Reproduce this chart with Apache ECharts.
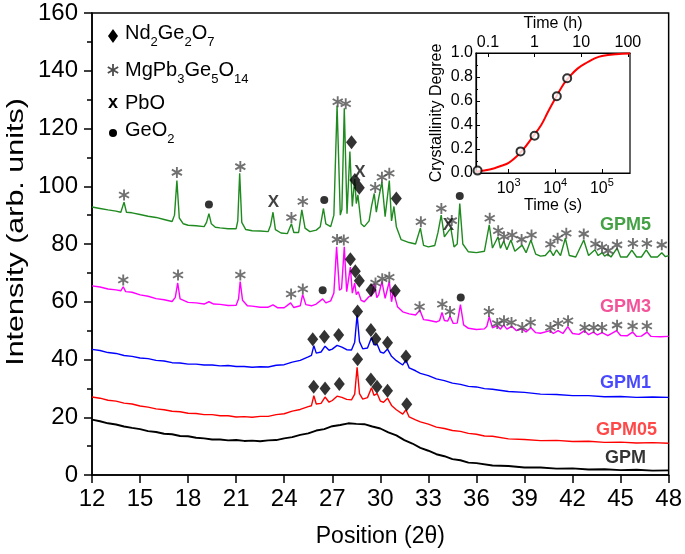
<!DOCTYPE html>
<html><head><meta charset="utf-8">
<script src="https://cdn.jsdelivr.net/npm/echarts@6/dist/echarts.min.js"></script>
<style>html,body{margin:0;padding:0;background:#fff}#c{width:685px;height:554px}</style>
</head><body><div id="c"></div>
<script>
const FONT = '"Liberation Sans", Arial, sans-serif';

// ---- main XRD patterns: [2theta, intensity] ----
const gpm = [[12,19.2],[12.5,18.6],[13,17.9],[13.5,17.5],[14,16.8],[14.5,16.3],[15,15.9],[15.5,15.2],[16,14.9],[16.5,14.3],[17,14.1],[17.5,13.5],[18,13.4],[18.5,12.9],[19,12.7],[19.5,12.3],[20,12.3],[20.5,12.0],[21,12.1],[21.5,11.8],[22,11.9],[22.5,11.7],[23,12.0],[23.5,12.1],[24,12.7],[24.5,13.1],[25,13.9],[25.5,14.4],[26,15.4],[26.5,15.9],[27,16.9],[27.5,17.3],[28,17.9],[28.5,17.7],[29,17.6],[29.5,16.8],[30,16.1],[30.5,14.8],[31,13.7],[31.5,12.1],[32,10.9],[32.5,9.4],[33,8.4],[33.5,7.2],[34,6.5],[34.5,5.5],[35,5.1],[35.5,4.3],[36,4.1],[37,3.3],[38,3.1],[39,2.6],[40,2.6],[41,2.2],[42,2.3],[43,1.9],[44,2.0],[45,1.7],[46,1.8],[47,1.5],[48,1.6]];

const gpm05 = [[12,27.0],[12.5,26.6],[13,25.9],[13.5,25.6],[14,24.9],[14.5,24.6],[15,23.9],[15.5,23.5],[16,22.9],[16.5,22.6],[17,22.1],[17.5,21.9],[18,21.4],[18.5,21.3],[19,20.9],[19.5,20.9],[20,20.5],[20.5,20.5],[21,20.1],[21.5,20.2],[22,20.0],[22.5,20.3],[23,20.3],[23.5,20.9],[24,21.2],[24.5,22.1],[25,22.7],[25.5,23.7],[25.7,24.0],[25.85,27.5],[26.0,24.6],[26.3,24.8],[26.55,27.0],[26.8,25.2],[27.0,25.8],[27.3,27.3],[27.6,26.9],[27.9,26.2],[28.2,26.0],[28.4,28.0],[28.55,37.3],[28.7,28.2],[28.9,26.3],[29.2,26.8],[29.45,30.2],[29.6,27.6],[29.8,28.2],[30.0,25.6],[30.2,25.2],[30.45,26.6],[30.7,24.1],[31.0,22.6],[31.4,21.1],[31.6,22.6],[31.8,20.1],[32.2,19.1],[32.5,18.4],[33,17.6],[33.5,16.6],[34,16.1],[34.5,15.4],[35,15.1],[35.5,14.4],[36,14.1],[36.5,13.5],[37,13.4],[38,12.5],[39,12.3],[40,11.9],[41,12.0],[42,11.6],[43,11.7],[44,11.3],[45,11.4],[46,11.1],[47,11.2],[48,11.0]];

const gpm1 = [[12,43.5],[12.5,43.1],[13,42.4],[13.5,42.1],[14,41.4],[14.5,41.1],[15,40.5],[15.5,40.3],[16,39.7],[16.5,39.5],[17,38.9],[17.5,38.8],[18,38.4],[18.5,38.4],[19,38.1],[19.5,38.1],[20,37.8],[20.5,37.9],[21,37.6],[21.5,37.6],[22,37.3],[22.5,37.5],[23,37.4],[23.5,38.0],[24,38.2],[24.5,39.1],[25,39.7],[25.5,40.9],[25.7,41.4],[25.85,44.8],[26.0,42.2],[26.3,42.6],[26.55,44.6],[26.8,43.2],[27.0,43.6],[27.3,44.9],[27.6,44.3],[27.9,43.4],[28.2,43.3],[28.4,46.0],[28.55,55.5],[28.7,46.2],[28.9,43.7],[29.2,44.0],[29.45,47.6],[29.6,45.1],[29.8,45.3],[30.0,42.6],[30.2,42.2],[30.45,43.6],[30.7,41.1],[31.0,39.6],[31.4,38.1],[31.6,39.8],[31.8,37.1],[32.2,36.1],[32.5,35.2],[33,34.4],[33.5,33.3],[34,32.7],[34.5,31.8],[35,31.4],[35.5,30.7],[36,30.5],[36.5,29.9],[37,29.7],[38,28.9],[39,28.6],[40,28.0],[41,27.9],[42,27.5],[43,27.5],[44,27.1],[45,27.2],[46,26.9],[47,27.0],[48,26.9]];

const gpm3 = [[12,65.5],[12.5,65.1],[13,64.4],[13.5,64.1],[13.8,63.8],[13.95,65.2],[14.1,63.5],[14.5,63.3],[15,62.4],[15.5,61.9],[16,61.1],[16.5,60.7],[17,60.1],[17.2,61.5],[17.35,66.5],[17.5,61.0],[18,59.8],[18.5,59.6],[19,59.2],[19.3,60.0],[19.6,59.2],[20,59.1],[20.5,58.7],[21,58.8],[21.15,61.0],[21.25,67.0],[21.4,60.5],[21.7,58.6],[22,58.5],[22.5,58.1],[23,58.1],[23.3,58.9],[23.6,57.9],[24,57.9],[24.4,59.6],[24.6,58.0],[25.0,58.6],[25.15,62.5],[25.35,59.0],[25.7,58.6],[26,59.2],[26.4,61.0],[26.6,59.6],[26.9,60.3],[27.1,63.0],[27.27,79.0],[27.45,64.0],[27.58,64.5],[27.75,79.0],[27.9,63.5],[28.0,63.8],[28.13,72.0],[28.25,63.0],[28.4,66.5],[28.5,62.5],[28.62,63.5],[28.8,60.5],[29.0,60.0],[29.3,61.8],[29.45,62.2],[29.63,66.4],[29.78,61.4],[29.9,62.5],[30.1,67.0],[30.3,61.2],[30.56,67.0],[30.7,60.0],[30.82,63.5],[31.07,58.3],[31.4,56.5],[31.8,55.8],[32.2,55.4],[32.47,57.1],[32.7,53.8],[33.0,53.6],[33.5,53.0],[33.7,53.5],[33.85,56.3],[34.0,53.5],[34.2,53.3],[34.35,55.0],[34.55,52.5],[34.8,52.6],[35.0,59.0],[35.2,52.0],[35.5,50.8],[36.0,50.4],[36.5,50.6],[36.65,51.5],[36.8,54.8],[37.0,51.0],[37.3,51.7],[37.5,50.5],[37.7,52.0],[37.9,50.5],[38.2,51.5],[38.5,50.0],[38.85,50.6],[39.1,49.5],[39.4,51.0],[39.7,49.3],[40.0,49.1],[40.6,50.0],[40.8,49.0],[41.1,50.0],[41.4,49.0],[41.7,51.4],[42.0,49.0],[42.4,48.7],[42.75,50.0],[43.0,48.6],[43.3,49.5],[43.55,48.5],[43.85,49.3],[44.2,48.3],[44.75,50.0],[45.0,48.3],[45.4,48.2],[45.75,49.5],[46.0,48.0],[46.3,48.1],[46.65,49.5],[46.9,48.0],[47.5,47.9],[48,48.0]];

const gpm5 = [[12,92.8],[12.5,92.3],[13,91.8],[13.5,91.4],[13.8,91.0],[14.0,94.5],[14.15,91.0],[14.5,90.8],[15,90.2],[15.5,89.6],[16,89.2],[16.5,88.5],[17.0,87.8],[17.15,90.0],[17.3,102.0],[17.45,89.0],[17.7,87.0],[18.0,86.5],[18.5,86.3],[19.0,86.0],[19.15,87.5],[19.3,90.5],[19.45,87.0],[19.7,85.8],[20.0,85.6],[20.5,85.3],[21.0,85.3],[21.1,88.0],[21.22,104.5],[21.35,87.5],[21.6,85.0],[22.0,84.6],[22.5,84.5],[23.0,84.3],[23.15,86.5],[23.3,91.0],[23.45,85.0],[23.8,83.8],[24.2,83.6],[24.45,87.0],[24.6,84.0],[24.9,84.0],[25.1,91.8],[25.3,85.5],[25.6,84.3],[26.0,84.8],[26.25,86.0],[26.45,92.3],[26.6,87.0],[26.9,86.0],[27.1,90.0],[27.3,128.0],[27.5,90.0],[27.6,92.0],[27.75,127.0],[27.92,90.5],[28.1,112.0],[28.25,93.0],[28.4,102.5],[28.5,94.0],[28.6,97.0],[28.8,87.0],[29.0,86.0],[29.3,88.0],[29.45,93.0],[29.62,97.5],[29.75,91.0],[29.9,96.0],[30.1,101.5],[30.3,89.5],[30.56,102.0],[30.7,88.0],[30.85,93.0],[31.0,86.0],[31.3,81.5],[31.8,80.5],[32.2,80.0],[32.5,85.5],[32.7,79.5],[33.0,79.0],[33.4,79.5],[33.6,84.0],[33.8,90.0],[34.0,82.5],[34.2,84.0],[34.4,85.5],[34.6,79.0],[34.8,80.0],[34.96,94.0],[35.15,80.0],[35.5,77.3],[36.0,77.0],[36.5,77.5],[36.8,86.6],[37.0,78.6],[37.35,82.5],[37.5,78.5],[37.7,81.0],[37.9,78.0],[38.15,81.4],[38.4,77.5],[38.85,79.6],[39.1,77.0],[39.4,81.4],[39.7,76.5],[40.0,75.8],[40.3,76.0],[40.6,77.9],[40.8,76.0],[41.0,78.0],[41.25,76.0],[41.55,82.0],[41.8,76.0],[42.2,75.5],[42.7,81.4],[43.0,76.0],[43.4,78.0],[43.6,76.0],[43.85,77.0],[44.0,75.8],[44.2,76.5],[44.4,75.5],[44.78,78.6],[45.0,75.5],[45.4,75.5],[45.7,77.9],[46.0,75.5],[46.3,75.5],[46.6,78.0],[46.9,75.5],[47.3,75.5],[47.57,77.0],[47.8,75.6],[48,76.0]];

// ---- phase marks [2theta, height] ----
const starMarks = [[14.0,97],[17.3,104.8],[21.26,106.8],[24.45,89.2],[25.16,94.7],[27.34,129.3],[27.84,128.6],[29.68,99.6],[30.1,103.1],[30.56,104.5],[32.53,87.7],[33.81,92.3],[34.46,88.1],[36.83,88.9],[37.36,84.6],[37.72,82.5],[38.23,83.1],[38.82,81.6],[39.44,83.1],[40.62,79.9],[41.07,82.0],[41.61,83.7],[42.7,83.5],[43.43,80.0],[43.84,78.9],[44.22,77.7],[44.78,79.7],[45.77,80.2],[46.64,80.2],[47.57,79.7],
  [13.95,67.5],[17.37,69.3],[21.26,69.3],[24.43,62.7],[25.16,64.4],[27.3,81.6],[27.72,81.4],[29.7,66.5],[30.12,68.0],[30.56,68.5],[32.45,58.3],[33.87,59.1],[34.35,56.6],[36.78,56.6],[37.3,52.5],[37.72,53.4],[38.19,52.8],[38.86,51.1],[39.38,52.8],[40.62,51.1],[41.1,52.5],[41.72,53.4],[42.76,51.1],[43.32,51.1],[43.84,51.1],[44.78,51.9],[45.75,51.6],[46.64,51.6]];
const diamondMarks = [[28.2,115.2],[28.41,102.2],[28.69,99.5],[31.0,95.8],
  [28.13,74.7],[28.44,70.6],[28.69,67.3],[29.42,64.1],[30.93,63.8],
  [25.78,47.0],[26.51,47.9],[27.4,48.5],[28.58,56.6],[29.41,50.2],[29.72,47.1],[30.45,45.8],[31.6,41.0],
  [25.84,30.6],[26.55,30.0],[27.44,31.5],[28.58,40.1],[29.41,33.1],[29.79,30.6],[30.45,29.2],[31.65,24.5]];
const dotMarks = [[19.3,93.7],[26.5,95.2],[34.96,96.6],[26.4,64.0],[35.02,61.5]];
const crossMarks = [[23.33,94.4],[28.73,104.8],[34.25,86.6]];

// ---- curve labels ----
const curveNames = ['GPM5','GPM3','GPM1','GPM05','GPM'];
const curveLabelPos = [[45.31,86.6],[45.31,58.2],[45.31,31.9],[45.37,15.6],[45.31,5.9]];
const curveColors = ['#1f8a1f','#ff00ff','#0000ff','#ff0000','#000000'];
const labelColors = ['#178a17','#f0287f','#1a1aff','#ff1a1a','#000000'];

// ---- inset: crystallinity vs time ----
const timePts = [216, 1800, 3600, 10800, 18000];
const cryPts = [0.02, 0.18, 0.31, 0.64, 0.79];
const fitT = [200, 300, 500, 700, 1000, 1500, 2000, 3000, 5000, 7000, 10000, 15000, 20000, 30000, 50000, 70000, 100000, 200000, 400000];
const fitY = [0.01, 0.02, 0.04, 0.06, 0.085, 0.14, 0.19, 0.28, 0.40, 0.51, 0.62, 0.74, 0.80, 0.87, 0.925, 0.955, 0.975, 0.99, 0.995];

const STAR = 'path://M-8 -50L8 -50L8 50L-8 50Z M39 -32L47 -18L-39 32L-47 18Z M47 18L39 32L-47 -18L-39 -32Z';

const chart = echarts.init(document.getElementById('c'), null, {renderer: 'canvas'});
const patterns = [gpm5, gpm3, gpm1, gpm05, gpm];

const series = patterns.map((d, i) => ({
  type: 'line', xAxisIndex: 0, yAxisIndex: 0, data: d, showSymbol: false, symbol: 'none',
  lineStyle: {color: curveColors[i], width: i === 4 ? 1.9 : 1.4}, z: 2
}));
series.push({type: 'scatter', xAxisIndex: 0, yAxisIndex: 0, data: starMarks, symbol: STAR, symbolSize: 11,
  itemStyle: {color: '#4d4d4d'}, z: 5});
series.push({type: 'scatter', xAxisIndex: 0, yAxisIndex: 0, data: diamondMarks, symbol: 'diamond', symbolSize: [11, 14],
  itemStyle: {color: '#000'}, z: 5});
series.push({type: 'scatter', xAxisIndex: 0, yAxisIndex: 0, data: dotMarks, symbol: 'circle', symbolSize: 8,
  itemStyle: {color: '#000'}, z: 5});
series.push({type: 'scatter', xAxisIndex: 0, yAxisIndex: 0, data: crossMarks, symbol: 'circle', symbolSize: 1,
  itemStyle: {color: 'rgba(0,0,0,0)'}, z: 5,
  label: {show: true, position: 'inside', formatter: 'X', fontFamily: FONT, fontSize: 17, fontWeight: 'bold', color: '#111'}});
series.push({type: 'scatter', xAxisIndex: 0, yAxisIndex: 0, symbol: 'circle', symbolSize: 1, z: 6,
  itemStyle: {color: 'rgba(0,0,0,0)'},
  data: curveNames.map((n, i) => ({name: n, value: curveLabelPos[i],
    label: {color: labelColors[i]}})),
  label: {show: true, position: 'inside', formatter: p => p.name, fontFamily: FONT, fontSize: 18, fontWeight: 'bold'}});
// inset
series.push({type: 'line', xAxisIndex: 1, yAxisIndex: 1, data: fitT.map((t, i) => [t, fitY[i]]),
  smooth: 0.4, showSymbol: false, symbol: 'none', lineStyle: {color: '#ff0000', width: 2}, z: 3});
series.push({type: 'scatter', xAxisIndex: 1, yAxisIndex: 1, data: timePts.map((t, i) => [t, cryPts[i]]),
  symbol: 'emptyCircle', symbolSize: 8, itemStyle: {color: '#000', borderColor: '#000', borderWidth: 1.5}, z: 4});

const axisCommon = {
  axisLine: {show: true, lineStyle: {color: '#000', width: 1.5}},
  splitLine: {show: false},
};
const subRich = {m: {fontFamily: FONT, fontSize: 20, color: '#000', padding: [0, 0, 5, 0], verticalAlign: 'bottom'},
                 s: {fontFamily: FONT, fontSize: 13, color: '#000', verticalAlign: 'bottom'}};

const option = {
  animation: false,
  backgroundColor: '#fff',
  grid: [
    {left: 92, top: 13, width: 577, height: 462, show: true, borderColor: '#000', borderWidth: 1.5, backgroundColor: 'transparent'},
    {left: 476, top: 53, width: 154, height: 120, show: true, borderColor: '#000', borderWidth: 1.2}
  ],
  xAxis: [
    Object.assign({}, axisCommon, {gridIndex: 0, type: 'value', min: 12, max: 48, interval: 3,
      axisTick: {show: true, inside: false, length: 8, lineStyle: {color: '#000', width: 1.5}},
      axisLabel: {fontFamily: FONT, fontSize: 24, color: '#000', margin: 12},
      name: 'Position (2θ)', nameLocation: 'middle', nameGap: 50,
      nameTextStyle: {fontFamily: FONT, fontSize: 23, color: '#000'}}),
    {gridIndex: 1, type: 'log', logBase: 10, min: 200, max: 400000, position: 'bottom',
      axisLine: {show: true, lineStyle: {color: '#000', width: 1.2}}, splitLine: {show: false},
      axisTick: {show: true, inside: true, length: 4, lineStyle: {color: '#000'}},
      axisLabel: {fontFamily: FONT, fontSize: 16, color: '#000', margin: 4, showMinLabel: false, showMaxLabel: false,
        formatter: v => '{b|10}{sup|' + Math.round(Math.log10(v)) + '}',
        rich: {b: {fontFamily: FONT, fontSize: 16, color: '#000', padding: [4, 0, 0, 0], verticalAlign: 'bottom'},
               sup: {fontFamily: FONT, fontSize: 11, color: '#000', verticalAlign: 'top'}}},
      name: 'Time (s)', nameLocation: 'middle', nameGap: 20,
      nameTextStyle: {fontFamily: FONT, fontSize: 16, color: '#000'}},
    {gridIndex: 1, type: 'log', logBase: 10, min: 200 / 3600, max: 400000 / 3600, position: 'top',
      axisLine: {show: true, lineStyle: {color: '#000', width: 1.2}}, splitLine: {show: false},
      axisTick: {show: true, inside: true, length: 4, lineStyle: {color: '#000'}},
      axisLabel: {fontFamily: FONT, fontSize: 16, color: '#000', margin: 2, showMinLabel: false, showMaxLabel: false,
        formatter: v => v < 0.5 ? (Math.round(v * 10) / 10).toFixed(1) : String(Math.round(v))},
      name: 'Time (h)', nameLocation: 'middle', nameGap: 21,
      nameTextStyle: {fontFamily: FONT, fontSize: 16, color: '#000'}}
  ],
  yAxis: [
    Object.assign({}, axisCommon, {gridIndex: 0, type: 'value', min: 0, max: 160, interval: 20,
      axisTick: {show: true, inside: false, length: 8, lineStyle: {color: '#000', width: 1.5}},
      minorTick: {show: true, splitNumber: 2, length: 5, lineStyle: {color: '#000', width: 1.5}},
      axisLabel: {fontFamily: FONT, fontSize: 24, color: '#000', margin: 14}}),
    {gridIndex: 1, type: 'value', min: 0, max: 1, interval: 0.2,
      axisLine: {show: true, lineStyle: {color: '#000', width: 1.2}}, splitLine: {show: false},
      axisTick: {show: true, inside: true, length: 4, lineStyle: {color: '#000'}},
      minorTick: {show: true, splitNumber: 2, length: 2, lineStyle: {color: '#000'}},
      axisLabel: {fontFamily: FONT, fontSize: 16, color: '#000', margin: 3, formatter: v => v.toFixed(1)},
      name: 'Crystallinity Degree', nameLocation: 'middle', nameGap: 31, nameRotate: 90,
      nameTextStyle: {fontFamily: FONT, fontSize: 16, color: '#000'}}
  ],
  graphic: [
    {type: 'text', x: 16, y: 232, rotation: Math.PI / 2, scaleX: 1.27,
      style: {text: 'Intensity (arb. units)', font: '24px ' + FONT, fill: '#000', align: 'center', verticalAlign: 'middle'}},
    // legend
    {type: 'polygon', shape: {points: [[113, 29], [118, 36], [113, 43], [108, 36]]}, style: {fill: '#000'}},
    {type: 'text', x: 125, y: 36, style: {text: '{m|Nd}{s|2}{m|Ge}{s|2}{m|O}{s|7}', verticalAlign: 'middle', rich: subRich}},
    {type: 'group', x: 113, y: 70, children: [
      {type: 'line', shape: {x1: 0, y1: -6, x2: 0, y2: 6}, style: {stroke: '#4d4d4d', lineWidth: 1.8}},
      {type: 'line', shape: {x1: -5.2, y1: -3, x2: 5.2, y2: 3}, style: {stroke: '#4d4d4d', lineWidth: 1.8}},
      {type: 'line', shape: {x1: -5.2, y1: 3, x2: 5.2, y2: -3}, style: {stroke: '#4d4d4d', lineWidth: 1.8}}
    ]},
    {type: 'text', x: 125, y: 73, style: {text: '{m|MgPb}{s|3}{m|Ge}{s|5}{m|O}{s|14}', verticalAlign: 'middle', rich: subRich}},
    {type: 'text', x: 113, y: 103, style: {text: 'x', font: 'bold 18px ' + FONT, fill: '#000', align: 'center', verticalAlign: 'middle'}},
    {type: 'text', x: 125, y: 103, style: {text: 'PbO', font: '20px ' + FONT, fill: '#000', verticalAlign: 'middle'}},
    {type: 'circle', shape: {cx: 113, cy: 133, r: 4}, style: {fill: '#000'}},
    {type: 'text', x: 125, y: 133, style: {text: '{m|GeO}{s|2}', verticalAlign: 'middle', rich: subRich}}
  ],
  series: series
};
chart.setOption(option);
</script>
</body></html>
